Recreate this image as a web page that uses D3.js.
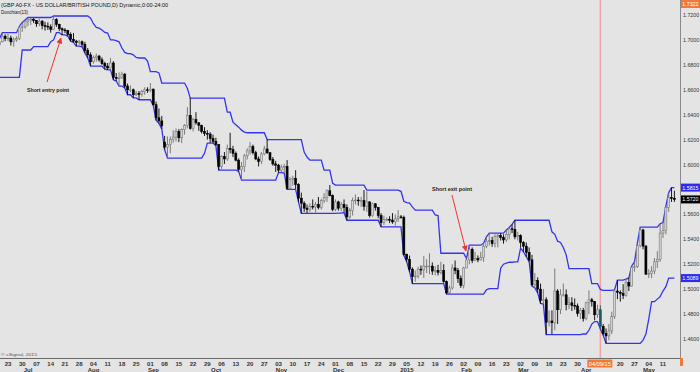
<!DOCTYPE html>
<html>
<head>
<meta charset="utf-8">
<script src="https://cdn.jsdelivr.net/npm/d3@7/dist/d3.min.js"></script>
<style>
html,body{margin:0;padding:0;background:#e4e4e4;}
svg{display:block;}
text{font-family:"Liberation Sans",Arial,sans-serif;}
</style>
</head>
<body>
<svg id="chart" width="700" height="372"></svg>
<script>
// ---------------- DATA ----------------
const titleLine1 = "(GBP A0-FX - US DOLLAR/BRITISH POUND,D) Dynamic,0:00-24:00";
const titleLine2 = "Donchian(13)";
const firstDay = "2014-06-02";
const lastDay = "2015-05-15";
const donchianPeriod = 13;

// one line per trading week (Mon..Fri)
const open = [
1.6755,1.6735,1.6745,1.6765,1.6815,
1.6795,1.6810,1.6795,1.6925,1.6975,
1.6970,1.6975,1.6960,1.6985,1.7030,
1.7010,1.7015,1.6985,1.7000,1.7010,
1.7100,1.7105,1.7150,1.7160,1.7165,
1.7155,1.7130,1.7150,1.7115,1.7110,
1.7105,1.7085,1.7165,1.7125,1.7090,
1.7080,1.7075,1.7045,1.7005,1.6990,
1.6980,1.6985,1.6965,1.6915,1.6880,
1.6825,1.6860,1.6870,1.6840,1.6810,
1.6790,1.6775,1.6815,1.6700,1.6690,
1.6695,1.6725,1.6630,1.6600,1.6600,
1.6560,1.6570,1.6565,1.6585,1.6600,
1.6595,1.6605,1.6480,1.6375,1.6350,
1.6180,1.6140,1.6160,1.6200,1.6220,
1.6265,1.6215,1.6280,1.6315,1.6395,
1.6290,1.6360,1.6335,1.6315,1.6265,
1.6250,1.6245,1.6210,1.6185,1.6160,
1.5985,1.6065,1.6045,1.6130,1.6120,
1.6090,1.6035,1.5960,1.5985,1.6070,
1.6110,1.6145,1.6095,1.6045,1.6025,
1.6085,1.6125,1.6095,1.6040,1.6005,
1.5995,1.5955,1.5980,1.5985,1.5810,
1.5880,1.5890,1.5840,1.5730,1.5690,
1.5650,1.5640,1.5665,1.5660,1.5680,
1.5655,1.5710,1.5735,1.5790,1.5750,
1.5640,1.5700,1.5650,1.5680,1.5655,
1.5580,1.5630,1.5710,1.5715,1.5710,
1.5710,1.5665,1.5700,1.5590,1.5685,
1.5655,1.5590,1.5535,1.5560,1.5560,
1.5555,1.5540,1.5565,1.5580,1.5575,
1.5280,1.5240,1.5160,1.5100,1.5105,
1.5160,1.5155,1.5185,1.5185,1.5185,
1.5145,1.5150,1.5135,1.5150,1.5060,
1.4970,1.5010,1.5170,1.5150,1.5085,
1.5030,1.5170,1.5235,1.5320,1.5230,
1.5245,1.5235,1.5255,1.5345,1.5385,
1.5390,1.5365,1.5425,1.5430,1.5415,
1.5395,1.5440,1.5485,1.5480,1.5420,
1.5430,1.5375,1.5345,1.5295,1.5235,
1.5035,1.5070,1.5000,1.4910,1.4915,
1.4735,1.4745,1.4730,1.4985,1.4835,
1.4955,1.4955,1.4875,1.4890,1.4870,
1.4865,1.4805,1.4830,1.4765,1.4890,
1.4915,1.4900,1.4795,1.4835,1.4700,
1.4645,1.4625,1.4665,1.4780,1.4985,
1.4975,1.4965,1.4950,1.5055,1.5025,
1.5175,1.5180,1.5350,1.5475,1.5345,
1.5120,1.5125,1.5145,1.5220,1.5240,
1.5450,1.5470,1.5655,1.5735,1.5730
];
const high = [
1.6770,1.6790,1.6800,1.6825,1.6830,
1.6840,1.6830,1.6935,1.6990,1.7000,
1.7000,1.7000,1.7010,1.7058,1.7045,
1.7050,1.7035,1.7020,1.7030,1.7110,
1.7140,1.7160,1.7180,1.7175,1.7175,
1.7160,1.7170,1.7160,1.7145,1.7140,
1.7125,1.7192,1.7175,1.7130,1.7100,
1.7095,1.7080,1.7060,1.7055,1.7000,
1.7000,1.6995,1.6985,1.6935,1.6900,
1.6875,1.6890,1.6880,1.6860,1.6825,
1.6815,1.6855,1.6830,1.6735,1.6740,
1.6745,1.6735,1.6650,1.6635,1.6610,
1.6590,1.6590,1.6600,1.6620,1.6620,
1.6654,1.6610,1.6505,1.6450,1.6390,
1.6230,1.6225,1.6225,1.6275,1.6290,
1.6285,1.6290,1.6325,1.6460,1.6533,
1.6375,1.6420,1.6340,1.6320,1.6300,
1.6276,1.6260,1.6240,1.6215,1.6165,
1.6075,1.6100,1.6160,1.6255,1.6150,
1.6105,1.6050,1.6020,1.6085,1.6130,
1.6180,1.6160,1.6110,1.6065,1.6100,
1.6150,1.6200,1.6100,1.6060,1.6030,
1.6005,1.6000,1.6005,1.6036,1.5900,
1.5910,1.5955,1.5850,1.5775,1.5705,
1.5680,1.5690,1.5720,1.5700,1.5740,
1.5725,1.5770,1.5800,1.5835,1.5760,
1.5720,1.5710,1.5700,1.5720,1.5680,
1.5650,1.5735,1.5760,1.5740,1.5740,
1.5795,1.5785,1.5705,1.5695,1.5690,
1.5660,1.5610,1.5590,1.5575,1.5585,
1.5610,1.5600,1.5634,1.5595,1.5590,
1.5285,1.5270,1.5175,1.5150,1.5180,
1.5190,1.5265,1.5240,1.5288,1.5215,
1.5185,1.5195,1.5220,1.5200,1.5070,
1.5030,1.5200,1.5230,1.5170,1.5110,
1.5180,1.5246,1.5353,1.5335,1.5300,
1.5270,1.5300,1.5369,1.5420,1.5450,
1.5420,1.5440,1.5445,1.5450,1.5440,
1.5474,1.5495,1.5520,1.5553,1.5460,
1.5440,1.5385,1.5375,1.5335,1.5275,
1.5130,1.5095,1.5045,1.5000,1.4935,
1.4830,1.4830,1.5165,1.5000,1.5000,
1.5045,1.4998,1.4935,1.4935,1.4925,
1.4885,1.4850,1.4850,1.4900,1.4990,
1.4930,1.4905,1.4875,1.4870,1.4720,
1.4685,1.4720,1.4820,1.4995,1.5072,
1.4990,1.5040,1.5080,1.5090,1.5185,
1.5220,1.5370,1.5498,1.5485,1.5355,
1.5160,1.5185,1.5250,1.5305,1.5525,
1.5535,1.5665,1.5775,1.5815,1.5790
];
const low = [
1.6710,1.6715,1.6725,1.6700,1.6770,
1.6780,1.6760,1.6700,1.6920,1.6940,
1.6945,1.6919,1.6950,1.6980,1.6990,
1.6990,1.6955,1.6946,1.6985,1.7000,
1.7065,1.7090,1.7110,1.7120,1.7135,
1.7105,1.7110,1.7085,1.7075,1.7080,
1.7058,1.7080,1.7105,1.7070,1.7040,
1.7055,1.7030,1.6990,1.6980,1.6950,
1.6960,1.6945,1.6895,1.6855,1.6790,
1.6810,1.6825,1.6825,1.6800,1.6765,
1.6760,1.6770,1.6680,1.6670,1.6630,
1.6690,1.6615,1.6560,1.6580,1.6535,
1.6550,1.6520,1.6545,1.6560,1.6575,
1.6580,1.6475,1.6355,1.6330,1.6285,
1.6120,1.6052,1.6090,1.6175,1.6185,
1.6180,1.6172,1.6240,1.6290,1.6280,
1.6265,1.6320,1.6270,1.6250,1.6230,
1.6200,1.6175,1.6172,1.6150,1.5955,
1.5965,1.6005,1.6030,1.6090,1.6060,
1.6025,1.5945,1.5875,1.5940,1.6040,
1.6080,1.6080,1.6035,1.5985,1.6005,
1.6075,1.6085,1.6030,1.5990,1.5940,
1.5935,1.5940,1.5931,1.5800,1.5800,
1.5830,1.5805,1.5700,1.5608,1.5620,
1.5610,1.5620,1.5640,1.5615,1.5640,
1.5640,1.5690,1.5700,1.5745,1.5625,
1.5625,1.5630,1.5625,1.5620,1.5553,
1.5565,1.5590,1.5680,1.5670,1.5660,
1.5630,1.5620,1.5575,1.5580,1.5630,
1.5570,1.5500,1.5515,1.5545,1.5530,
1.5525,1.5510,1.5540,1.5565,1.5270,
1.5220,1.5140,1.5045,1.5060,1.5085,
1.5115,1.5090,1.5130,1.5120,1.5115,
1.5110,1.5110,1.5120,1.5050,1.4960,
1.4960,1.4995,1.5120,1.5050,1.5010,
1.5005,1.5168,1.5200,1.5209,1.5225,
1.5216,1.5230,1.5219,1.5329,1.5350,
1.5340,1.5335,1.5335,1.5390,1.5365,
1.5380,1.5400,1.5450,1.5400,1.5390,
1.5335,1.5300,1.5260,1.5220,1.5025,
1.5010,1.4970,1.4885,1.4880,1.4635,
1.4700,1.4640,1.4670,1.4720,1.4800,
1.4940,1.4830,1.4840,1.4825,1.4835,
1.4780,1.4760,1.4740,1.4750,1.4800,
1.4860,1.4750,1.4770,1.4680,1.4630,
1.4565,1.4590,1.4640,1.4760,1.4920,
1.4900,1.4920,1.4940,1.4985,1.5020,
1.5140,1.5170,1.5335,1.5320,1.5115,
1.5090,1.5089,1.5120,1.5170,1.5220,
1.5410,1.5440,1.5620,1.5700,1.5700
];
const close = [
1.6735,1.6745,1.6765,1.6815,1.6795,
1.6810,1.6795,1.6925,1.6975,1.6970,
1.6975,1.6960,1.6985,1.7030,1.7010,
1.7015,1.6985,1.7000,1.7010,1.7100,
1.7105,1.7150,1.7160,1.7165,1.7155,
1.7130,1.7150,1.7115,1.7110,1.7105,
1.7085,1.7165,1.7125,1.7090,1.7080,
1.7075,1.7045,1.7005,1.6990,1.6980,
1.6985,1.6965,1.6915,1.6880,1.6825,
1.6860,1.6870,1.6840,1.6810,1.6790,
1.6775,1.6815,1.6700,1.6690,1.6695,
1.6725,1.6630,1.6600,1.6600,1.6560,
1.6570,1.6565,1.6585,1.6600,1.6595,
1.6605,1.6480,1.6375,1.6350,1.6310,
1.6140,1.6160,1.6200,1.6220,1.6265,
1.6215,1.6280,1.6315,1.6395,1.6290,
1.6360,1.6335,1.6315,1.6265,1.6250,
1.6245,1.6210,1.6185,1.6160,1.5985,
1.6065,1.6045,1.6130,1.6120,1.6090,
1.6035,1.5960,1.5985,1.6070,1.6110,
1.6145,1.6095,1.6045,1.6025,1.6085,
1.6125,1.6095,1.6040,1.6005,1.5995,
1.5955,1.5980,1.5985,1.5810,1.5880,
1.5890,1.5840,1.5730,1.5690,1.5650,
1.5640,1.5665,1.5660,1.5680,1.5655,
1.5710,1.5735,1.5790,1.5750,1.5640,
1.5700,1.5650,1.5680,1.5655,1.5580,
1.5630,1.5710,1.5715,1.5710,1.5710,
1.5665,1.5700,1.5590,1.5685,1.5655,
1.5590,1.5535,1.5560,1.5560,1.5555,
1.5540,1.5565,1.5580,1.5575,1.5280,
1.5240,1.5160,1.5100,1.5105,1.5160,
1.5155,1.5185,1.5185,1.5185,1.5145,
1.5150,1.5135,1.5150,1.5060,1.4970,
1.5010,1.5170,1.5150,1.5085,1.5030,
1.5170,1.5235,1.5320,1.5230,1.5245,
1.5235,1.5255,1.5345,1.5385,1.5390,
1.5365,1.5425,1.5430,1.5415,1.5395,
1.5440,1.5485,1.5480,1.5420,1.5430,
1.5375,1.5345,1.5295,1.5235,1.5035,
1.5070,1.5000,1.4910,1.4915,1.4735,
1.4745,1.4730,1.4985,1.4835,1.4955,
1.4955,1.4875,1.4890,1.4870,1.4865,
1.4805,1.4830,1.4765,1.4890,1.4915,
1.4900,1.4795,1.4835,1.4700,1.4645,
1.4625,1.4665,1.4780,1.4985,1.4975,
1.4965,1.4950,1.5055,1.5025,1.5175,
1.5180,1.5350,1.5475,1.5345,1.5120,
1.5125,1.5145,1.5220,1.5240,1.5450,
1.5470,1.5655,1.5735,1.5730,1.5720
];

const priceTicks = [1.46,1.48,1.50,1.52,1.54,1.56,1.58,1.60,1.62,1.64,1.66,1.68,1.70,1.72];
const weekTickDates = ["2014-06-23","2014-06-30","2014-07-07","2014-07-14","2014-07-21","2014-07-28",
 "2014-08-04","2014-08-11","2014-08-18","2014-08-25","2014-09-01","2014-09-08","2014-09-15","2014-09-22",
 "2014-09-29","2014-10-06","2014-10-13","2014-10-20","2014-10-27","2014-11-03","2014-11-10","2014-11-17",
 "2014-11-24","2014-12-01","2014-12-08","2014-12-15","2014-12-22","2014-12-29","2015-01-05","2015-01-12",
 "2015-01-19","2015-01-26","2015-02-02","2015-02-09","2015-02-16","2015-02-23","2015-03-02","2015-03-09",
 "2015-03-16","2015-03-23","2015-03-30","2015-04-06","2015-04-13","2015-04-20","2015-04-27","2015-05-04","2015-05-11"];
const monthNames = ["Jul","Aug","Sep","Oct","Nov","Dec","2015","Feb","Mar","Apr","May"];
const monthDates = ["2014-07-01","2014-08-01","2014-09-01","2014-10-01","2014-11-03","2014-12-01",
 "2015-01-02","2015-02-02","2015-03-02","2015-04-01","2015-05-01"];
const markedDate = "2015-04-09";
const markedLabel = "04/09/15";
const axisTopLabel = "1.7322";
const annotations = [
  {text:"Short entry point", tx:27, ty:92, tw:42, x1:47, y1:82, x2:61, y2:38},
  {text:"Short exit point", tx:432, ty:191, tw:40, x1:452, y1:195, x2:466, y2:251}
];

// ---------------- SETUP ----------------
const W = 700, H = 372, plotR = 680, plotB = 358;
const parse = d3.utcParse("%Y-%m-%d");
const fmtKey = d3.utcFormat("%Y-%m-%d");
const days = d3.utcDay.range(parse(firstDay), d3.utcDay.offset(parse(lastDay), 1))
  .filter(d => d.getUTCDay() !== 0 && d.getUTCDay() !== 6);
const idx = new Map(days.map((d, i) => [fmtKey(d), i]));
const N = days.length;

const x = d3.scaleLinear().domain([idx.get("2014-06-23"), idx.get("2015-05-11")]).range([8, 663]);
const y = d3.scaleLinear().domain([1.46, 1.72]).range([339, 15]);

// Donchian channel
const upper = high.map((v, i) => i < donchianPeriod - 1 ? null : d3.max(high.slice(i - donchianPeriod + 1, i + 1)));
const lower = low.map((v, i) => i < donchianPeriod - 1 ? null : d3.min(low.slice(i - donchianPeriod + 1, i + 1)));

const svg = d3.select("#chart");
svg.append("rect").attr("width", W).attr("height", H).attr("fill", "#e4e4e4");

const defs = svg.append("defs");
defs.append("clipPath").attr("id", "clip").append("rect")
  .attr("x", 0).attr("y", 0).attr("width", plotR).attr("height", plotB);
defs.append("marker").attr("id", "ah").attr("viewBox", "0 0 10 10")
  .attr("refX", 9).attr("refY", 5).attr("markerWidth", 6).attr("markerHeight", 6)
  .attr("markerUnits", "userSpaceOnUse").attr("orient", "auto")
  .append("path").attr("d", "M0,0L10,5L0,10z").attr("fill", "#ee3333");

const plot = svg.append("g").attr("clip-path", "url(#clip)");

// marked vertical line
const markX = x(idx.get(markedDate));
plot.append("line").attr("x1", markX).attr("x2", markX).attr("y1", 0).attr("y2", plotB)
  .attr("stroke", "#f0a4a4").attr("stroke-width", 1.5);

// Donchian lines
const line = d3.line().defined(d => d[1] != null).x(d => x(d[0])).y(d => y(d[1]));
plot.append("path").datum(upper.map((v, i) => [i, v])).attr("d", line)
  .attr("fill", "none").attr("stroke", "#3434ee").attr("stroke-width", 1.3);
plot.append("path").datum(lower.map((v, i) => [i, v])).attr("d", line)
  .attr("fill", "none").attr("stroke", "#3434ee").attr("stroke-width", 1.3);

// candles
const markIdx = idx.get(markedDate);
const bw = 2;
const cg = plot.selectAll("g.candle").data(d3.range(N)).join("g").attr("class", "candle");
cg.append("line")
  .attr("x1", i => x(i)).attr("x2", i => x(i))
  .attr("y1", i => y(high[i])).attr("y2", i => y(low[i]))
  .attr("stroke", i => i === markIdx ? "#1d5c5a" : (close[i] >= open[i] ? "#6e6e6e" : "#000"))
  .attr("stroke-width", 0.9);
cg.append("rect")
  .attr("x", i => x(i) - bw / 2)
  .attr("y", i => y(Math.max(open[i], close[i])))
  .attr("width", bw)
  .attr("height", i => Math.max(0.8, Math.abs(y(open[i]) - y(close[i]))))
  .attr("fill", i => i === markIdx ? "#1d5c5a" : (close[i] >= open[i] ? "#d6d6d6" : "#000"))
  .attr("stroke", i => i === markIdx ? "#1d5c5a" : (close[i] >= open[i] ? "#7a7a7a" : "#000"))
  .attr("stroke-width", 0.6);

// axes frame
svg.append("line").attr("x1", 0).attr("x2", plotR + 1).attr("y1", plotB + 0.5).attr("y2", plotB + 0.5)
  .attr("stroke", "#6a6a6a").attr("stroke-width", 1);
svg.append("line").attr("x1", plotR + 0.5).attr("x2", plotR + 0.5).attr("y1", 0).attr("y2", plotB + 1)
  .attr("stroke", "#8a8a8a").attr("stroke-width", 1);

// right price labels
const fmt4 = d3.format(".4f");
const lastClose = close[N - 1], lastUpper = upper[N - 1], lastLower = lower[N - 1];
const boxes = [
  {v: lastUpper, fill: "#2c2cf0"},
  {v: lastClose, fill: "#000000"},
  {v: lastLower, fill: "#2c2cf0"}
];
const axFont = 5.3;
svg.append("g").selectAll("text").data(priceTicks.filter(t => boxes.every(b => Math.abs(y(t) - y(b.v)) > 6)))
  .join("text").attr("x", 683).attr("y", t => y(t) + 2)
  .attr("font-size", axFont).attr("fill", "#333")
  .text(t => fmt4(t));

const bg = svg.append("g");
boxes.forEach(b => {
  const cy = y(b.v);
  bg.append("rect").attr("x", 681).attr("y", cy - 4).attr("width", 19).attr("height", 8).attr("fill", b.fill);
  bg.append("text").attr("x", 682.3).attr("y", cy + 2).attr("font-size", axFont).attr("fill", "#fff")
    .text(fmt4(b.v));
});
bg.append("rect").attr("x", 681).attr("y", 0).attr("width", 19).attr("height", 8).attr("fill", "#f07a38");
bg.append("text").attr("x", 682.3).attr("y", 6).attr("font-size", axFont).attr("fill", "#fff")
  .text(axisTopLabel);

// bottom labels (labels under the marked-date box are hidden, as in the reference)
const fmtDay = d3.utcFormat("%d");
svg.append("g").selectAll("text")
  .data(weekTickDates.filter(d => Math.abs(x(idx.get(d)) - markX) > 13)).join("text")
  .attr("x", d => x(idx.get(d))).attr("y", 366).attr("text-anchor", "middle")
  .attr("font-size", 6).attr("font-weight", "bold").attr("fill", "#333")
  .text(d => fmtDay(parse(d)));
svg.append("g").selectAll("text").data(monthNames).join("text")
  .attr("x", (m, i) => x(idx.get(monthDates[i])) + 3).attr("y", 371.5).attr("text-anchor", "middle")
  .attr("font-size", 6).attr("font-weight", "bold").attr("fill", "#333")
  .text(m => m);

// marked date box
svg.append("rect").attr("x", markX - 13).attr("y", 359.5).attr("width", 25).attr("height", 8).attr("fill", "#f07a38");
svg.append("text").attr("x", markX - 0.5).attr("y", 365.8).attr("text-anchor", "middle")
  .attr("font-size", 6).attr("fill", "#fff").attr("textLength", 22).attr("lengthAdjust", "spacingAndGlyphs")
  .text(markedLabel);
svg.append("rect").attr("x", 680).attr("y", 358).attr("width", 3).attr("height", 8).attr("fill", "#f07a38");

// title
svg.append("text").attr("x", 1).attr("y", 7).attr("font-size", 6).attr("fill", "#111")
  .attr("textLength", 167).attr("lengthAdjust", "spacingAndGlyphs").text(titleLine1);
svg.append("text").attr("x", 1).attr("y", 13.5).attr("font-size", 6).attr("fill", "#111")
  .attr("textLength", 27).attr("lengthAdjust", "spacingAndGlyphs").text(titleLine2);

// copyright
svg.append("text").attr("x", 1).attr("y", 356).attr("font-size", 4).attr("fill", "#555")
  .attr("textLength", 36).attr("lengthAdjust", "spacingAndGlyphs").text("\u00a9 cSignal, 2015");

// annotations
const ag = svg.append("g");
annotations.forEach(a => {
  ag.append("line").attr("x1", a.x1).attr("y1", a.y1).attr("x2", a.x2).attr("y2", a.y2)
    .attr("stroke", "#ee3333").attr("stroke-width", 1).attr("marker-end", "url(#ah)");
  ag.append("text").attr("x", a.tx).attr("y", a.ty).attr("font-size", 6).attr("font-weight", "bold").attr("fill", "#222")
    .attr("textLength", a.tw).attr("lengthAdjust", "spacingAndGlyphs").text(a.text);
});
</script>
</body>
</html>
